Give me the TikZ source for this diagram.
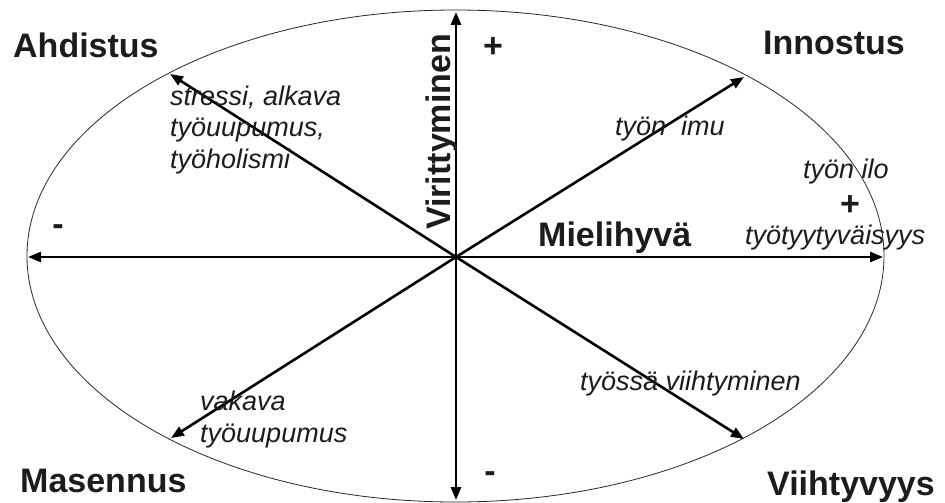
\documentclass[tikz,border=0pt]{standalone}
\usepackage{fontspec}
\setmainfont{Liberation Sans}
\usetikzlibrary{arrows.meta}
\definecolor{txt}{HTML}{1C1C1C}
\tikzset{
  axis/.style={line width=2.6pt, -{Triangle[length=13pt,width=10pt]}},
  rim/.style={line width=0.8pt, draw=black!85},
  bigl/.style={font=\fontsize{34}{40}\selectfont\bfseries, inner sep=0pt, text=txt},
  smalll/.style={font=\fontsize{27}{31.5}\selectfont\itshape, inner sep=0pt, text=txt, align=left},
}
\begin{document}
\begin{tikzpicture}[x=1pt,y=-1pt]
\useasboundingbox (0,0) rectangle (945,503);
\coordinate (O) at (456,257);
\draw[rim] (455.5,256) ellipse [x radius=428.5, y radius=246];
\coordinate (up) at (456,12);
\coordinate (down) at (456,500);
\coordinate (left) at (28,257);
\coordinate (right) at (883,257);
\coordinate (ul) at (170,74);
\coordinate (ur) at (744,77);
\coordinate (ll) at (171,438);
\coordinate (lr) at (744,439);
\foreach \t in {up,down,left,right,ul,ur,ll,lr} \draw[axis] (O) -- (\t);
\node[bigl, anchor=base west] (ahd) at (13,58) {Ahdistus};
\node[bigl, anchor=base west] (inn) at (763,55) {Innostus};
\node[bigl, anchor=base west] (mas) at (20,492) {Masennus};
\node[bigl, anchor=base west] (vii) at (767,495) {Viihtyvyys};
\node[bigl, anchor=base west] (mie) at (538,246) {Mielihyvä};
\node[bigl, anchor=base west, rotate=90] (vir) at (450,230) {Virittyminen};
\node[bigl] (p1) at (493,48) {+};
\node[bigl] (p2) at (850,206) {+};
\node[bigl] (m1) at (58,230) {-};
\node[bigl] (m2) at (490,477) {-};
\node[smalll, anchor=base west] (str) at (170,168) {stressi, alkava\\työuupumus,\\työholismi};
\node[smalll, anchor=base west] (imu) at (615,135) {työn\ \ imu};
\node[smalll, anchor=base west] (ilo) at (803,178) {työn ilo};
\node[smalll, anchor=base west] (tyy) at (745,244) {työtyytyväisyys};
\node[smalll, anchor=base west] (vih) at (580,390) {työssä viihtyminen};
\node[smalll, anchor=base west] (vak) at (200,442) {vakava\\työuupumus};
\end{tikzpicture}
\end{document}
